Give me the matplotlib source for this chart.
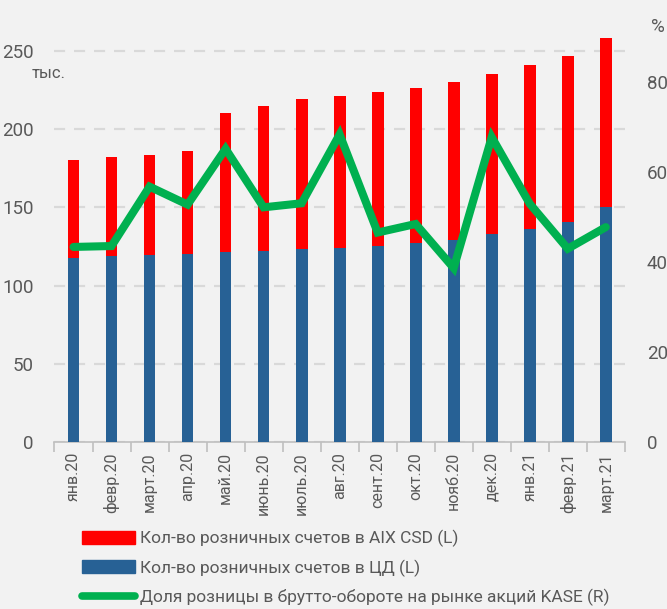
import matplotlib
matplotlib.use('Agg')
import matplotlib.pyplot as plt
from matplotlib.patches import Patch
from matplotlib.lines import Line2D
import numpy as np

months = ['янв.20', 'февр.20', 'март.20', 'апр.20', 'май.20', 'июнь.20', 'июль.20', 'авг.20',
          'сент.20', 'окт.20', 'нояб.20', 'дек.20', 'янв.21', 'февр.21', 'март.21']
# тыс. счетов
cd_accounts = [117.5, 118.8, 119.4, 120.4, 121.3, 122.2, 123.2, 124.3,
               125.5, 127.0, 129.2, 132.8, 136.4, 140.5, 150.0]
aix_accounts = [62.6, 63.4, 64.3, 65.4, 88.8, 92.3, 95.8, 96.6,
                98.0, 99.0, 100.8, 102.4, 104.7, 106.4, 108.0]
# %
retail_share = [43.4, 43.6, 56.8, 52.8, 65.2, 52.2, 53.1, 68.4,
                46.6, 48.5, 38.7, 67.8, 53.0, 43.0, 47.8]

plt.rcParams['font.family'] = ['Roboto', 'DejaVu Sans']

bg = '#f2f2f2'
txt = '#595959'
red = '#ff0000'
blue = '#276195'
green = '#00b050'

fig = plt.figure(figsize=(6.67, 6.09), dpi=100, facecolor=bg)
ax = fig.add_axes([0.0817, 0.2737, 0.855, 0.72])
ax.set_facecolor(bg)
ax2 = ax.twinx()

x = np.arange(len(months))
ax.bar(x, cd_accounts, width=0.31, color=blue, zorder=3)
ax.bar(x, aix_accounts, width=0.31, bottom=cd_accounts, color=red, zorder=3)
ax2.plot(x, retail_share, color=green, lw=5.8, solid_joinstyle='miter', solid_capstyle='round', zorder=4)

ax.set_xlim(-0.5, len(months) - 0.5)
ax.set_ylim(0, 280)
ax2.set_ylim(0, 97.4)
ax.set_yticks([0, 50, 100, 150, 200, 250])
ax2.set_yticks([0, 20, 40, 60, 80])

ax.yaxis.grid(True, color='#d9d9d9', ls=(0, (5, 4)), lw=1.6, zorder=0)
ax.set_axisbelow(True)

for a in (ax, ax2):
    for s in ('top', 'left', 'right', 'bottom'):
        a.spines[s].set_visible(False)
ax.spines['bottom'].set_visible(True)
ax.spines['bottom'].set_color('#bfbfbf')
ax.spines['bottom'].set_linewidth(1.2)

ax.set_xticks(x)
ax.set_xticklabels(months, rotation=90, fontsize=11.5, color=txt)
ax.set_xticks(np.arange(-0.5, len(months)), minor=True)
ax.tick_params(axis='x', which='major', length=0, pad=7)
ax.tick_params(axis='x', which='minor', length=7, color='#bfbfbf', width=1.2)
ax.tick_params(axis='y', length=0, pad=15, labelsize=13.5, labelcolor=txt)
ax2.tick_params(axis='y', length=0, pad=16, labelsize=13.5, labelcolor=txt)

fig.text(0.048, 0.872, 'тыс.', fontsize=12, color=txt)
fig.text(0.976, 0.948, '%', fontsize=13.5, color=txt)

handles = [Patch(color=red), Patch(color=blue), Line2D([0], [0], color=green, lw=5.5, solid_capstyle='round')]
labels = ['Кол-во розничных счетов в AIX CSD (L)', 'Кол-во розничных счетов в ЦД (L)',
          'Доля розницы в брутто-обороте на рынке акций KASE (R)']
fig.legend(handles, labels, loc='upper left', bbox_to_anchor=(0.123, 0.13), frameon=False,
           fontsize=12.5, labelcolor=txt, handlelength=3.05, handleheight=0.75, handletextpad=0.3,
           labelspacing=0.7, borderaxespad=0, borderpad=0)

fig.savefig('out.png', dpi=100, facecolor=bg)
